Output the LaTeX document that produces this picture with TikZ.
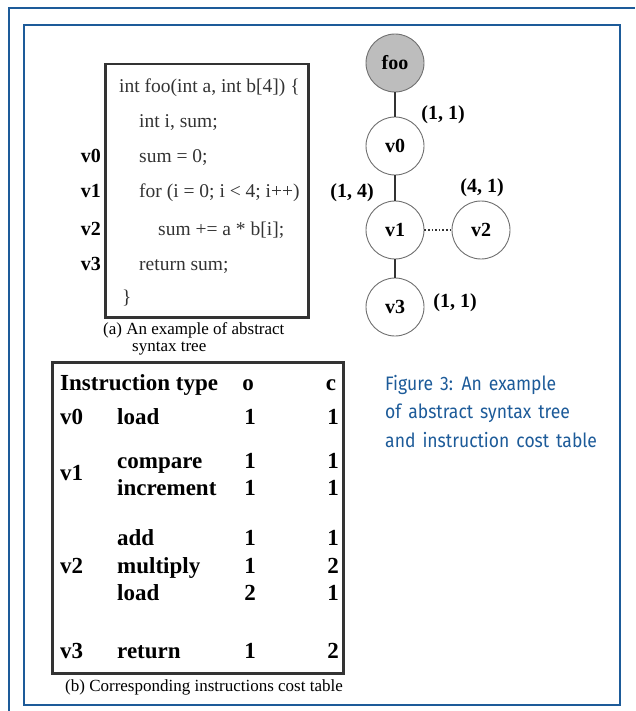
\documentclass[tikz,border=0pt]{standalone}
\usepackage{fontspec}
\setmainfont{Liberation Serif}
\newfontfamily\capfont[FakeStretch=0.9,WordSpace=1.5]{Fira Sans}
\usetikzlibrary{positioning}
\definecolor{frame}{HTML}{1D5B99}
\definecolor{ink}{HTML}{333333}
\definecolor{rootfill}{HTML}{BDBDBD}
\newcommand{\sz}[1]{\fontsize{#1}{#1}\selectfont}

\begin{document}
\begin{tikzpicture}[x=1pt,y=-1pt,
  vx/.style={circle,draw=ink!70,line width=0.9pt,minimum size=58pt,inner sep=0pt,fill=white,font=\sz{20}\bfseries},
  cl/.style={anchor=base west,inner sep=0pt,text=ink,font=\sz{19.5}},
  vl/.style={anchor=base east,inner sep=0pt,font=\sz{20}\bfseries},
  wt/.style={inner sep=0pt,font=\sz{20}\bfseries},
  tb/.style={anchor=base west,inner sep=0pt,font=\sz{23}\bfseries},
  tn/.style={anchor=base,inner sep=0pt,font=\sz{23}\bfseries},
  subcap/.style={anchor=base west,inner sep=0pt,font=\sz{17}},
  fig/.style={anchor=west,inner sep=0pt,text=frame,font=\capfont\sz{19.5}},
  link/.style={draw=ink,line width=1.8pt}]
  \useasboundingbox (0,0) rectangle (635,711);
  % frames
  \draw[frame,line width=1.5pt] (9,711) -- (9,8) -- (635,8);
  \draw[frame,line width=1.5pt] (24,25) rectangle (620,705);

  % (a) source code
  \node[draw=ink,line width=2.5pt,minimum width=203pt,minimum height=253pt,anchor=north west,inner sep=0pt] (code) at (104,63) {};
  \foreach \y/\x/\t in {93/119/int foo(int a{,} int b[4]) \{, 128/139/int i{,} sum;, 163/139/sum = 0;,
    198/139/for (i = 0; i < 4; i++), 235/158/sum += a * b[i];, 270/139/return sum;, 303/122/\}}
    {\node[cl] (line\y) at (\x,\y) {\t};}
  \foreach \y/\v in {163/v0, 198/v1, 235/v2, 270/v3}
    {\node[vl] (tag\v) at (101,\y) {\v};}
  \node[subcap] (capa) at (103,334) {(a) An example of abstract};
  \node[subcap] (capa2) at (132,351) {syntax tree};

  % syntax tree
  \node[vx,fill=rootfill] (foo) at (395,63) {foo};
  \node[vx] (v0) at (395,146) {v0};
  \node[vx] (v1) at (395,230) {v1};
  \node[vx] (v2) at (481,230) {v2};
  \node[vx] (v3) at (395,307) {v3};
  \draw[link] (foo) -- (v0);
  \draw[link] (v0) -- (v1);
  \draw[link] (v1) -- (v3);
  \draw[draw=ink,line width=1.6pt,dotted] (v1) -- (v2);
  \node[wt] (w0) at (443,115) {(1, 1)};
  \node[wt] (w1) at (352,193) {(1, 4)};
  \node[wt] (w2) at (482,188) {(4, 1)};
  \node[wt] (w3) at (455,303) {(1, 1)};

  % (b) cost table
  \node[draw=ink,line width=2.5pt,minimum width=291pt,minimum height=311pt,anchor=north west,inner sep=0pt] (table) at (51,361) {};
  \node[tb] (head) at (60,390) {Instruction type};
  \node[tn] (heado) at (248,390) {o};
  \node[tn] (headc) at (331,390) {c};
  \foreach \y/\n/\o/\c in {424/load/1/1, 468/compare/1/1, 495/increment/1/1, 545/add/1/1,
    573/multiply/1/2, 600/load/2/1, 658/return/1/2}
    {\node[tb] (ins\y) at (117,\y) {\n};
     \node[tn] (o\y) at (250,\y) {\o};
     \node[tn] (c\y) at (333,\y) {\c};}
  \foreach \y/\v in {424/v0, 480/v1, 573/v2, 658/v3}
    {\node[tb] (row\v) at (60,\y) {\v};}
  \node[subcap] (capb) at (65,691) {(b) Corresponding instructions cost table};

  % figure caption
  \node[fig] (fig1) at (385,385) {Figure 3: An example};
  \node[fig] (fig2) at (385,413) {of abstract syntax tree};
  \node[fig] (fig3) at (385,440) {and instruction cost table};
\end{tikzpicture}
\end{document}
